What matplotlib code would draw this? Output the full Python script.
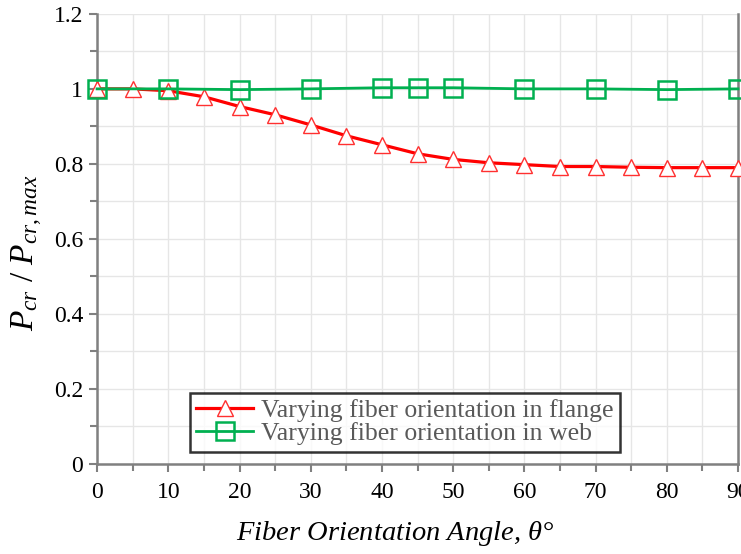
import matplotlib
matplotlib.use("Agg")
import matplotlib.pyplot as plt
from matplotlib.ticker import MultipleLocator

plt.rcParams['font.family'] = ['Liberation Serif', 'DejaVu Serif']
plt.rcParams['mathtext.fontset'] = 'custom'
plt.rcParams['mathtext.it'] = 'Liberation Serif:italic'
plt.rcParams['mathtext.rm'] = 'Liberation Serif'

# flange series
angle_flange = [0, 5, 10, 15, 20, 25, 30, 35, 40, 45, 50, 55, 60, 65, 70, 75, 80, 85, 90]
ratio_flange = [1.0, 1.0, 0.995, 0.979, 0.953, 0.931, 0.904, 0.875, 0.851, 0.827, 0.812,
                0.803, 0.798, 0.793, 0.793, 0.791, 0.790, 0.790, 0.790]
# web series
angle_web = [0, 10, 20, 30, 40, 45, 50, 60, 70, 80, 90]
ratio_web = [1.0, 1.0, 0.998, 1.0, 1.003, 1.003, 1.003, 1.0, 1.0, 0.998, 1.0]

labels = ["Varying fiber orientation in flange", "Varying fiber orientation in web"]

fig = plt.figure(figsize=(7.41, 5.54), dpi=100)
ax = fig.add_axes([0.131, 0.1625, 0.865, 0.8125])

ax.plot(angle_flange, ratio_flange, color="#FF0000", lw=2.3, marker="^", ms=11,
        mfc="white", mec="#FF3030", mew=1.0, label=labels[0], clip_on=False, zorder=4)
ax.plot(angle_web, ratio_web, color="#00B050", lw=2.0, marker="s", ms=12.5,
        mfc="none", mec="#00B050", mew=1.8, label=labels[1], clip_on=False, zorder=5)

ax.set_xlim(0, 90)
ax.set_ylim(0, 1.2)
ax.xaxis.set_major_locator(MultipleLocator(10))
ax.xaxis.set_minor_locator(MultipleLocator(5))
ax.yaxis.set_minor_locator(MultipleLocator(0.1))
ax.set_yticks([0, 0.2, 0.4, 0.6, 0.8, 1.0, 1.2])
ax.set_yticklabels(["0", "0.2", "0.4", "0.6", "0.8", "1", "1.2"])

ax.grid(True, which="both", color="#E6E6E6", lw=1.0, zorder=0)
ax.set_axisbelow(True)

for s in ["left", "bottom", "right"]:
    ax.spines[s].set_color("#808080")
    ax.spines[s].set_linewidth(1.8)
ax.spines["top"].set_visible(False)
ax.tick_params(which="both", direction="out", color="#808080", width=1.5, labelsize=17,
               labelcolor="black")
ax.tick_params(which="major", length=6)
ax.tick_params(which="minor", length=5)
ax.tick_params(axis="x", pad=7)
ax.tick_params(axis="y", pad=4)

ax.set_xlabel(r"Fiber Orientation Angle, $\theta$°", fontsize=20.5, style="italic")
ax.xaxis.set_label_coords(0.465, -0.122)
ax.set_ylabel(r"$P_{cr}$ / $P_{cr,max}$", fontsize=24)
ax.yaxis.set_label_coords(-0.082, 0.47)

leg = ax.legend(loc="upper left", bbox_to_anchor=(0.145, 0.158), borderaxespad=0,
                fontsize=18.5, frameon=True, fancybox=False, edgecolor="black",
                handlelength=2.2, borderpad=0.25, labelspacing=0.0, handletextpad=0.3)
leg.get_frame().set_linewidth(1.8)
for t in leg.get_texts():
    t.set_color("#595959")

fig.savefig("out.png", dpi=100)
